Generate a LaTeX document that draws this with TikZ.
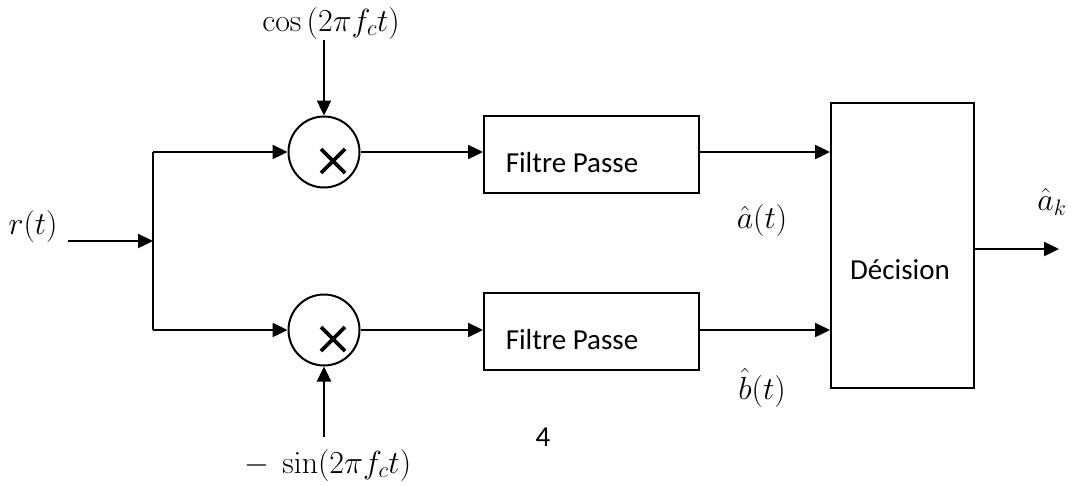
\RequirePackage{fix-cm}
\documentclass[tikz,border=0pt]{standalone}
\usepackage[no-math]{fontspec}
\setmainfont{Carlito}
\usetikzlibrary{arrows.meta}
\begin{document}
\begin{tikzpicture}[x=1pt,y=-1pt,
  wire/.style={line width=2.4pt,-{Triangle[length=15pt,width=14pt]}},
  plainwire/.style={line width=2.4pt},
  blockbox/.style={draw,line width=2pt,rectangle,inner sep=0pt},
  mixer/.style={draw,line width=2pt,circle,minimum size=71pt,inner sep=0pt},
  txt/.style={inner sep=0pt,font=\fontsize{29}{35}\selectfont},
  mth/.style={inner sep=0pt,font=\fontsize{32}{38}\selectfont}]
\useasboundingbox (0,0) rectangle (1073,485);

% blocks
\node[mixer] (m1) at (324,152) {};
\node[mixer] (m2) at (324,330) {};
\node[blockbox,minimum width=215pt,minimum height=77pt] (f1) at (591.5,154.5) {};
\node[blockbox,minimum width=215pt,minimum height=77pt] (f2) at (591.5,331.5) {};
\node[blockbox,minimum width=143pt,minimum height=285pt] (dec) at (902.5,245.5) {};

% block texts
\node[txt] (f1t) at (572,163) {Filtre Passe};
\node[txt] (f2t) at (572,340) {Filtre Passe};
\node[txt] (dect) at (900,270) {Décision};
\node[txt] (four) at (543,437) {4};

% multiplication crosses
\foreach \m in {m1,m2}{
  \draw[line width=3.6pt] ([shift={(-3,-3)}]\m.center) -- ([shift={(21,21)}]\m.center);
  \draw[line width=3.6pt] ([shift={(21,-3)}]\m.center) -- ([shift={(-3,21)}]\m.center);
}

% labels
\node[mth] (rt) at (33,226) {$r(t)$};
\node[mth] (cosl) at (331,23) {$\cos\,(2\pi f_c t)$};
\node[mth] (sinl) at (328,465) {$-\ \sin(2\pi f_c t)$};
\node[mth] (ah) at (762,220) {$\hat{a}(t)$};
\node[mth] (bh) at (762,388) {$\hat{b}(t)$};
\node[mth] (ak) at (1052,202) {$\hat{a}_k$};

% coordinates
\coordinate (rin) at (68,241);
\coordinate (split) at (153,241);
\coordinate (cin) at (324,40);
\coordinate (sin) at (324,437);
\coordinate (out) at (1059,249);

% connectors
\draw[wire] (rin) -- (split);
\draw[plainwire] (split |- m1) -- (split |- m2);
\draw[wire] (split |- m1) -- (m1.west);
\draw[wire] (split |- m2) -- (m2.west);
\draw[wire] (cin) -- (m1.north);
\draw[wire] (sin) -- (m2.south);
\draw[wire] (m1.east) -- (m1.east -| f1.west);
\draw[wire] (m2.east) -- (m2.east -| f2.west);
\draw[wire] (f1.east |- m1) -- (dec.west |- m1);
\draw[wire] (f2.east |- m2) -- (dec.west |- m2);
\draw[wire] (dec.east |- out) -- (out);
\end{tikzpicture}
\end{document}
